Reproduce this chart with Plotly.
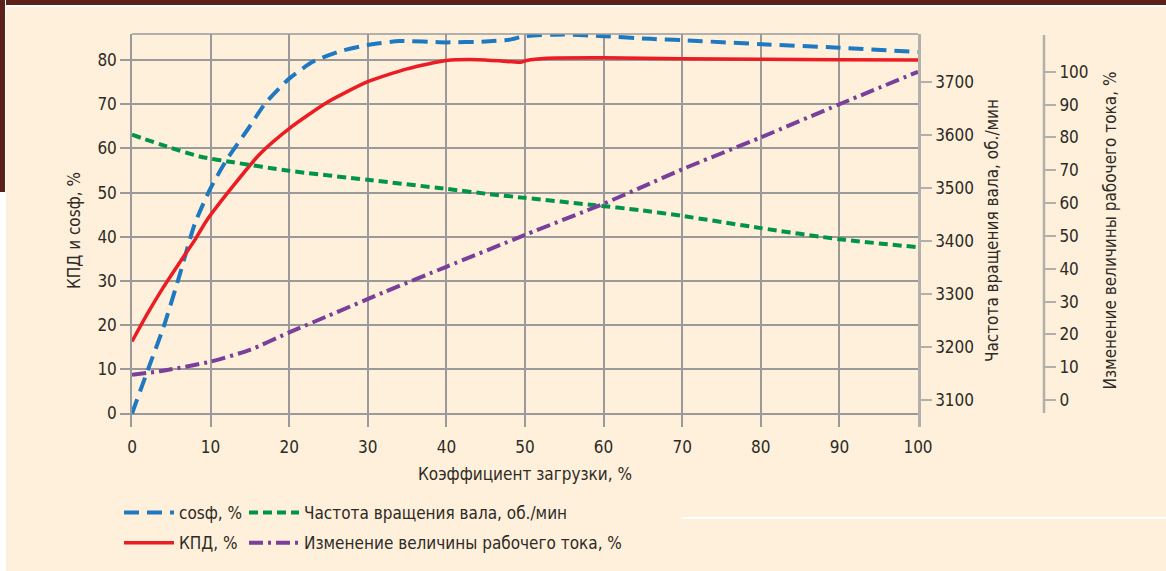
import plotly.graph_objects as go

# ---------------- data ----------------
cos_x = [0, 2, 4, 6, 8, 10, 12, 14.6, 17, 20, 23, 26.5, 30, 34, 40, 45, 48, 50, 55, 60, 66, 70, 80, 90, 100]
cos_y = [0, 9.8, 19.5, 31, 43, 51, 57.3, 64, 70.3, 75.8, 79.6, 82, 83.4, 84.3, 84.0, 84.2, 84.6, 85.4, 85.8, 85.4, 84.8, 84.5, 83.6, 82.8, 81.8]

kpd_x = [0, 2, 4, 6, 8, 9.5, 13, 16.3, 20, 24.8, 30, 35, 40, 44, 47, 49.4, 50.2, 52.8, 60, 70, 80, 90, 100]
kpd_y = [16.3, 22.7, 28.6, 34, 39.3, 43.7, 51.8, 58.8, 64.5, 70.4, 75.1, 78.0, 79.9, 80.1, 79.8, 79.5, 79.9, 80.4, 80.5, 80.3, 80.2, 80.1, 80.0]

rpm_x = [0, 4.4, 8.6, 12.9, 20, 30, 40, 45.5, 50, 59, 64.6, 70, 80, 90, 100]
rpm_y = [3600, 3578, 3559, 3548, 3532, 3515, 3498, 3488, 3481, 3467, 3458, 3447, 3424, 3403, 3388]

cur_x = [0, 3.6, 10, 15, 20, 25, 32, 40, 50, 60, 65, 70, 80, 90, 100]
cur_y = [7.7, 8.8, 11.7, 15.3, 20.6, 25.7, 32.8, 40.6, 50.3, 59.8, 65.0, 70.3, 80.0, 90.1, 100.0]

x_ticks = list(range(0, 101, 10))
left_ticks = list(range(0, 81, 10))
rpm_ticks = list(range(3100, 3701, 100))
cur_ticks = list(range(0, 101, 10))

names = ["cosф, %", "КПД, %", "Частота вращения вала, об./мин", "Изменение величины рабочего тока, %"]
x_title = "Коэффициент загрузки, %"
y_title = "КПД и cosф, %"
y2_title = "Частота вращения вала, об./мин"
y3_title = "Изменение величины рабочего тока, %"

# ---------------- style ----------------
FONT = "DejaVu Sans Condensed, Liberation Sans Narrow, sans-serif"
FS = 17
TXT = "#2e2a26"
BG = "#fef0da"
GRID = "#9a9a9a"
AX = "#b3b0ab"

W, H = 1166, 571
L, R, T, B = 132, 0, 34, 144
PW = W - L - R
PH = H - T - B
PLOT_RIGHT = 918
AX3_X = 1044


def px(xp):
    return (xp - L) / PW


def py(yp):
    return (H - B - yp) / PH


fig = go.Figure()

fig.add_trace(go.Scatter(x=cos_x, y=cos_y, name=names[0], mode="lines",
                         line=dict(color="#1e78c2", width=4, dash="15px,8px", shape="spline", smoothing=0.6),
                         legend="legend", legendgroup="a"))
fig.add_trace(go.Scatter(x=kpd_x, y=kpd_y, name=names[1], mode="lines",
                         line=dict(color="#ec1c24", width=3.5, shape="spline", smoothing=0.6),
                         legend="legend", legendgroup="b"))
fig.add_trace(go.Scatter(x=rpm_x, y=rpm_y, name=names[2], mode="lines", yaxis="y2",
                         line=dict(color="#00944a", width=4, dash="9px,5px", shape="spline", smoothing=0.6),
                         legend="legend2", legendgroup="c"))
fig.add_trace(go.Scatter(x=cur_x, y=cur_y, name=names[3], mode="lines", yaxis="y3",
                         line=dict(color="#7a3f9a", width=4, dash="14px,5px,3px,5px", shape="spline", smoothing=0.6),
                         legend="legend2", legendgroup="d"))

tickfont = dict(family=FONT, size=FS, color=TXT)
titlefont = dict(family=FONT, size=FS, color=TXT)

fig.update_layout(
    width=W, height=H, autosize=False,
    margin=dict(l=L, r=R, t=T, b=B, pad=0, autoexpand=False),
    paper_bgcolor=BG, plot_bgcolor=BG,
    font=dict(family=FONT, size=FS, color=TXT),
    xaxis=dict(domain=[0, (PLOT_RIGHT - L) / PW], range=[0, 100], tickvals=x_ticks,
               showgrid=True, gridcolor=GRID, gridwidth=1.5, zeroline=False, showline=False,
               ticks="", ticklabelstandoff=8, tickfont=tickfont,
               title=dict(text=x_title, font=titlefont, standoff=12)),
    yaxis=dict(range=[-3.05, 85.9], tickvals=left_ticks, showgrid=True, gridcolor=GRID, gridwidth=1.5,
               zeroline=False, showline=True, linecolor=GRID, linewidth=1.5,
               ticks="outside", ticklen=10, tickcolor=GRID, tickwidth=1.5, tickfont=tickfont,
               title=dict(text=y_title, font=titlefont, standoff=12)),
    yaxis2=dict(overlaying="y", side="right", anchor="x", range=[3049.1, 3789.9], tickvals=rpm_ticks,
                showgrid=False, zeroline=False, showline=True, linecolor=AX, linewidth=2.5,
                ticks="outside", ticklen=11, tickcolor=AX, tickwidth=1.5, tickfont=tickfont,
                title=dict(text=y2_title, font=titlefont, standoff=14)),
    yaxis3=dict(overlaying="y", side="right", anchor="free", position=px(AX3_X),
                range=[-8.2, 111.5], tickvals=cur_ticks,
                showgrid=False, zeroline=False, showline=False,
                ticks="outside", ticklen=11, tickcolor=AX, tickwidth=1.5, tickfont=tickfont,
                title=dict(text=y3_title, font=titlefont, standoff=16)),
    legend=dict(x=px(119), y=py(495), xanchor="left", yanchor="top", bgcolor="rgba(0,0,0,0)",
                font=dict(family=FONT, size=FS, color=TXT), traceorder="grouped", tracegroupgap=5,
                itemwidth=50),
    legend2=dict(x=px(244), y=py(495), xanchor="left", yanchor="top", bgcolor="rgba(0,0,0,0)",
                 font=dict(family=FONT, size=FS, color=TXT), traceorder="grouped", tracegroupgap=5,
                 itemwidth=50),
    showlegend=True,
)

shapes = [
    # top border of the plot area
    dict(type="line", xref="paper", yref="paper", x0=0, x1=px(PLOT_RIGHT), y0=1, y1=1,
         line=dict(color=GRID, width=1.5)),
    # third axis line
    dict(type="line", xref="paper", yref="paper", x0=px(AX3_X), x1=px(AX3_X), y0=py(35), y1=py(413),
         line=dict(color=AX, width=2.5)),
    # page decoration: dark header band and left strip
    dict(type="rect", xref="paper", yref="paper", x0=px(0), x1=px(W), y0=py(0), y1=py(7),
         fillcolor="#ffffff", line=dict(width=0), layer="below"),
    dict(type="rect", xref="paper", yref="paper", x0=px(0), x1=px(W), y0=py(0), y1=py(5),
         fillcolor="#5c2219", line=dict(width=0), layer="below"),
    dict(type="rect", xref="paper", yref="paper", x0=px(0), x1=px(6), y0=py(0), y1=py(571),
         fillcolor="#ffffff", line=dict(width=0), layer="below"),
    dict(type="rect", xref="paper", yref="paper", x0=px(0), x1=px(5), y0=py(0), y1=py(192),
         fillcolor="#5c2219", line=dict(width=0), layer="below"),
    dict(type="line", xref="paper", yref="paper", x0=px(681), x1=px(W), y0=py(518), y1=py(518),
         line=dict(color="#ffffff", width=2), layer="below"),
]
fig.update_layout(shapes=shapes)

post = (
    "document.body.style.margin='0';document.body.style.padding='0';"
    "document.body.style.overflow='hidden';"
    "var gd=document.getElementById('{plot_id}');"
    "Plotly.relayout(gd,{width:1166,height:571});"
)

fig.write_html("out.html", config={"responsive": False, "displayModeBar": False}, post_script=post)
